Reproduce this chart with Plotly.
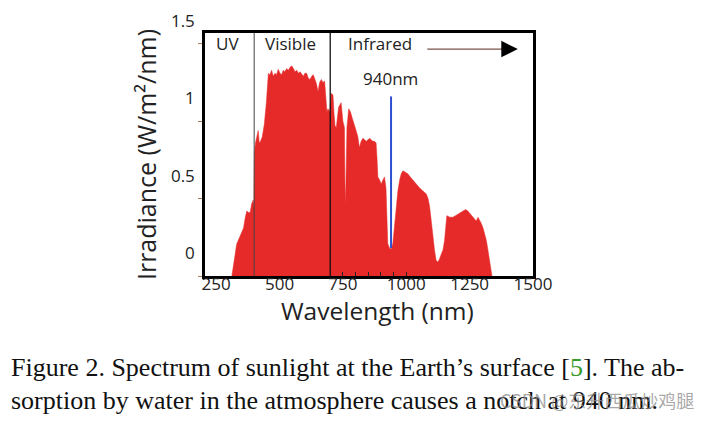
import plotly.graph_objects as go

# ---- data ----
wavelength_nm = [312, 320, 331, 345, 358, 365, 371, 378, 384, 390, 396, 399,
                 401, 405, 410, 416, 420, 425, 432, 440, 448, 456, 462, 469, 475,
                 482, 488, 495, 502, 508, 515, 521, 528, 535, 542, 549, 555, 561,
                 568, 574, 581, 588, 594, 600, 607, 613, 620, 627, 633, 640, 646,
                 652, 658, 665, 671, 678, 683, 687, 691, 698, 704, 711, 715, 719,
                 724, 728, 733, 743, 750, 756, 759, 762, 766, 773, 780, 787, 796,
                 802, 809, 815, 822, 829, 836, 842, 849, 855, 862, 868, 875, 881,
                 885, 888, 895, 901, 908, 914, 920, 924, 927, 934, 941, 947, 954,
                 960, 967, 974, 980, 987, 996, 1006, 1016, 1026, 1039, 1052, 1065,
                 1079, 1086, 1092, 1099, 1105, 1112, 1118, 1125, 1131, 1138, 1145,
                 1151, 1156, 1160, 1172, 1184, 1194, 1204, 1214, 1224, 1234, 1243,
                 1253, 1263, 1270, 1276, 1283, 1290, 1296, 1303, 1309, 1316, 1322,
                 1329, 1335, 1338]
irradiance = [0.0, 0.10, 0.206, 0.26, 0.31, 0.38, 0.42, 0.41, 0.41, 0.466, 0.49, 0.46,
              0.80, 0.86, 0.90, 0.94, 0.86, 0.87, 0.90, 0.98, 1.12, 1.31, 1.30, 1.33, 1.29,
              1.31, 1.30, 1.335, 1.31, 1.30, 1.33, 1.32, 1.34, 1.33, 1.35, 1.357, 1.34, 1.32,
              1.33, 1.31, 1.32, 1.30, 1.29, 1.31, 1.31, 1.28, 1.27, 1.29, 1.30, 1.27, 1.24,
              1.19, 1.25, 1.27, 1.25, 1.26, 1.10, 1.06, 1.08, 1.06, 1.18, 1.17, 1.05, 0.97,
              0.96, 1.04, 1.09, 1.12, 1.00, 0.96, 0.47, 0.60, 0.96, 1.08, 1.06, 1.02, 0.98,
              0.94, 0.90, 0.83, 0.87, 0.89, 0.88, 0.87, 0.88, 0.89, 0.88, 0.87, 0.87, 0.86,
              0.75, 0.64, 0.62, 0.595, 0.62, 0.64, 0.57, 0.40, 0.21, 0.18, 0.175, 0.21, 0.32,
              0.45, 0.55, 0.62, 0.66, 0.68, 0.67, 0.66, 0.64, 0.62, 0.60, 0.57, 0.55,
              0.53, 0.50, 0.45, 0.35, 0.25, 0.16, 0.10, 0.09, 0.11, 0.14, 0.17,
              0.23, 0.33, 0.39, 0.38, 0.38, 0.39, 0.40, 0.41, 0.42, 0.43, 0.42,
              0.40, 0.38, 0.37, 0.355, 0.38, 0.36, 0.34, 0.31, 0.28, 0.23, 0.17,
              0.10, 0.02, 0.0]

region_bounds_nm = [400, 700]
region_labels = ["UV", "Visible", "Infrared"]
notch_nm = 940
notch_span = [0.18, 1.16]
x_ticks = [250, 500, 750, 1000, 1250, 1500]
x_minor_ticks = [750, 800, 850, 900, 950, 1000]
y_ticks = [0, 0.5, 1, 1.5]
y_tick_text = ["0", "0.5", "1", "1.5"]
x_title = "Wavelength (nm)"
y_title = "Irradiance (W/m²/nm)"

FONT = "Open Sans"
TXT = "#222222"

fig = go.Figure()
fig.add_trace(go.Scatter(x=wavelength_nm, y=irradiance, mode="lines",
                         fill="tozeroy", fillcolor="#e62a2a",
                         line=dict(color="#e62a2a", width=0.5),
                         hoverinfo="skip"))
fig.add_trace(go.Scatter(x=[notch_nm, notch_nm], y=notch_span, mode="lines",
                         line=dict(color="#2b4fcf", width=2), hoverinfo="skip"))

fig.add_vline(x=region_bounds_nm[0], line=dict(color="#444444", width=1))
fig.add_vline(x=region_bounds_nm[1], line=dict(color="#111111", width=1.3))

# region labels
for lbl, xpos in zip(region_labels, [293, 542, 897]):
    fig.add_annotation(x=xpos, y=1.505, text=lbl, showarrow=False,
                       font=dict(family=FONT, size=17, color=TXT))
fig.add_annotation(x=notch_nm - 3, y=1.279, text=f"{notch_nm}nm", showarrow=False,
                   font=dict(family=FONT, size=17, color=TXT))

# infrared arrow
fig.add_shape(type="line", x0=1083, x1=1425, y0=1.466, y1=1.466,
              line=dict(color="#7a5548", width=1.2))
fig.add_annotation(x=1440, y=1.466, ax=1405, ay=1.466, axref="x", ayref="y",
                   xref="x", yref="y", text="", showarrow=True,
                   arrowhead=2, arrowsize=2.2, arrowwidth=1.5, arrowcolor="#000000")

# x-axis title (slightly off-centre in the reference)
fig.add_annotation(xref="paper", yref="paper", x=0.526, y=-0.143,
                   xanchor="center", yanchor="middle", showarrow=False,
                   text=x_title, font=dict(family=FONT, size=24.5, color=TXT))

# caption
fig.add_annotation(xref="paper", yref="paper", x=-0.598, y=-0.375,
                   xanchor="left", yanchor="middle", showarrow=False,
                   text="Figure 2. Spectrum of sunlight at the Earth’s surface [<span style='color:#3a9a2a'>5</span>]. The ab-",
                   font=dict(family="Liberation Serif", size=26, color="#111111"))
fig.add_annotation(xref="paper", yref="paper", x=-0.598, y=-0.512,
                   xanchor="left", yanchor="middle", showarrow=False,
                   text="sorption by water in the atmosphere causes a notch at 940 nm.",
                   font=dict(family="Liberation Serif", size=26, color="#111111"))
fig.add_annotation(xref="paper", yref="paper", x=0.893, y=-0.512,
                   xanchor="left", yanchor="middle", showarrow=False,
                   text="CSDN @东升西瓜炒鸡腿",
                   font=dict(family="Noto Sans CJK SC", size=18, color="rgba(140,140,140,0.75)"))

fig.update_layout(
    width=696, height=406,
    margin=dict(l=197, r=171, t=25, b=138, autoexpand=False),
    plot_bgcolor="white", paper_bgcolor="white",
    showlegend=False,
    font=dict(family=FONT, color=TXT),
)
fig.update_xaxes(
    range=[206, 1500], tickvals=x_ticks, ticks="",
    minor=dict(tickvals=x_minor_ticks, ticks="inside", ticklen=4, tickcolor="#222", tickwidth=1),
    ticklabelstandoff=-9,
    showline=True, linewidth=2.5, linecolor="black", mirror=True,
    showgrid=False, zeroline=False,
    tickfont=dict(family=FONT, size=17, color=TXT),
)
fig.update_yaxes(
    range=[0, 1.57], tickvals=y_ticks, ticktext=y_tick_text,
    ticks="outside", ticklen=4, tickwidth=1, tickcolor="#b07a60",
    ticklabelshift=-23,
    showline=True, linewidth=2.5, linecolor="black", mirror=True,
    showgrid=False, zeroline=False,
    tickfont=dict(family=FONT, size=17, color=TXT),
    title=dict(text=y_title, font=dict(family=FONT, size=25, color=TXT), standoff=8),
)

fig.write_html("out.html")
